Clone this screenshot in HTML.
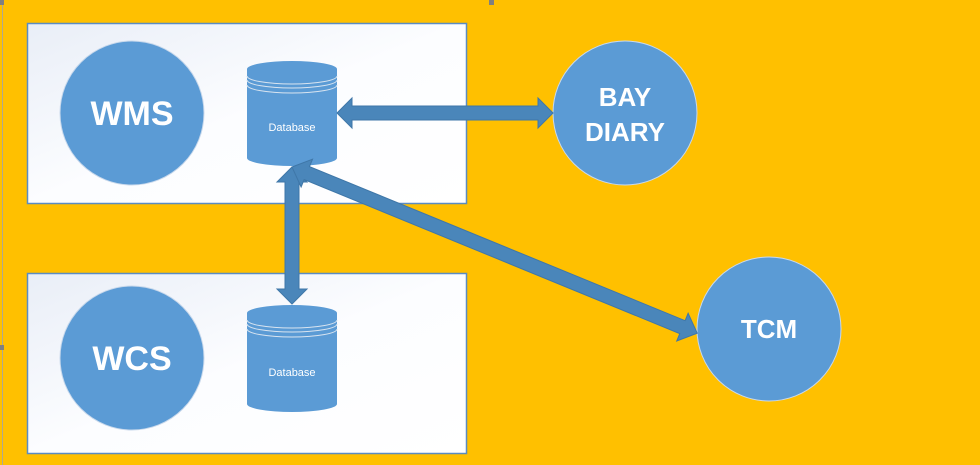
<!DOCTYPE html>
<html><head><meta charset="utf-8"><style>
html,body{margin:0;padding:0;background:#FFC000;}
body{width:980px;height:465px;overflow:hidden;position:relative;}
</style></head><body>
<svg width="980" height="465" viewBox="0 0 980 465" xmlns="http://www.w3.org/2000/svg" style="position:absolute;left:0;top:0">
<defs>
<linearGradient id="bg" x1="0" y1="0" x2="1" y2="1">
<stop offset="0" stop-color="#e9eef7"/><stop offset="0.5" stop-color="#fcfdff"/><stop offset="1" stop-color="#ffffff"/>
</linearGradient>
</defs>
<rect width="980" height="465" fill="#FFC000"/>
<line x1="2.5" y1="0" x2="2.5" y2="465" stroke="#b0a890" stroke-width="1"/>
<rect x="0" y="0" width="4" height="5" fill="#808080"/>
<rect x="489" y="0" width="5" height="5" fill="#808080"/>
<rect x="0" y="345" width="4" height="5" fill="#808080"/>
<rect x="27.5" y="23.5" width="439" height="180" fill="url(#bg)" stroke="#5b8cc2" stroke-width="1.5"/>
<rect x="27.5" y="273.5" width="439" height="180" fill="url(#bg)" stroke="#5b8cc2" stroke-width="1.5"/>
<g fill="#5B9BD5" stroke="#c9d9ec" stroke-width="1">
<circle cx="132" cy="113" r="72"/>
<circle cx="132" cy="358" r="72"/>
<circle cx="625" cy="113" r="72"/>
<circle cx="769" cy="329" r="72"/>
</g>
<g font-family="Liberation Sans, sans-serif" font-weight="bold" fill="#fff" text-anchor="middle" font-size="34">
<text x="132" y="125">WMS</text>
<text x="132" y="370">WCS</text>
<text x="625" y="106" font-size="26">BAY</text>
<text x="625" y="141" font-size="26">DIARY</text>
<text x="769" y="338" font-size="26">TCM</text>
</g>
<g>
<path d="M247 69 A45 8 0 0 1 337 69 L337 158 A45 8 0 0 1 247 158 Z" fill="#5B9BD5"/>
<path d="M247 76 A45 8 0 0 0 337 76 M247 80 A45 8 0 0 0 337 80 M247 85 A45 8 0 0 0 337 85" fill="none" stroke="#d8e4f0" stroke-width="1"/>
<text x="292" y="131" font-family="Liberation Sans, sans-serif" font-size="11" fill="#fff" text-anchor="middle">Database</text>
<path d="M247 313 A45 8 0 0 1 337 313 L337 404 A45 8 0 0 1 247 404 Z" fill="#5B9BD5"/>
<path d="M247 320 A45 8 0 0 0 337 320 M247 324 A45 8 0 0 0 337 324 M247 329 A45 8 0 0 0 337 329" fill="none" stroke="#d8e4f0" stroke-width="1"/>
<text x="292" y="376" font-family="Liberation Sans, sans-serif" font-size="11" fill="#fff" text-anchor="middle">Database</text>
</g>
<g fill="#4A86BA" stroke="#3f77a8" stroke-width="1">
<polygon points="337,113 352,98 352,106 538,106 538,98 553,113 538,128 538,120 352,120 352,128"/>
<polygon points="292,167 307,182 299,182 299,289 307,289 292,304 277,289 285,289 285,182 277,182"/>
<polygon transform="rotate(22.3 292 167)" points="292,167 308,152 308,160 714,160 714,152 730,167 714,182 714,174 308,174 308,182"/>
</g>
</svg>
</body></html>
